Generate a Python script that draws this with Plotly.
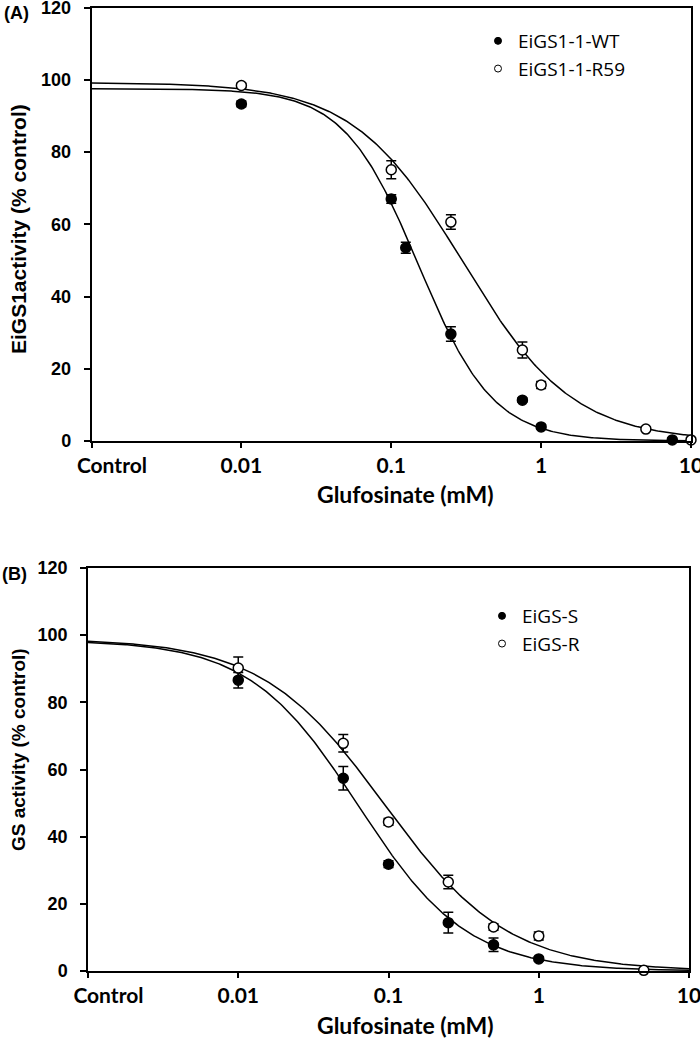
import numpy as np
import plotly.graph_objects as go

# ---------------- Data ----------------
# Panel A
conc_a_wt = [0.01, 0.1, 0.125, 0.25, 0.75, 1, 7.5]
act_a_wt = [93.3, 67.0, 53.5, 29.6, 11.3, 3.9, 0.3]
err_a_wt = [0.8, 1.2, 1.5, 2.0, 0.6, 0.5, 0.3]

conc_a_r59 = [0.01, 0.1, 0.25, 0.75, 1, 5, 10]
act_a_r59 = [98.4, 75.1, 60.6, 25.2, 15.5, 3.3, 0.3]
err_a_r59 = [0.6, 2.5, 2.0, 2.2, 1.0, 0.5, 0.3]

# Panel B
conc_b_s = [0.01, 0.05, 0.1, 0.25, 0.5, 1]
act_b_s = [86.6, 57.4, 31.8, 14.4, 7.8, 3.6]
err_b_s = [2.3, 3.5, 1.0, 3.1, 2.0, 0.6]

conc_b_r = [0.01, 0.05, 0.1, 0.25, 0.5, 1, 5]
act_b_r = [90.2, 67.8, 44.4, 26.5, 13.1, 10.4, 0.2]
err_b_r = [3.3, 2.6, 1.0, 2.0, 1.0, 1.2, 0.3]

# Fitted log-logistic curves: (top, IC50, Hill slope)
fit_a_wt = (97.5, 0.152, 1.745)
fit_a_r59 = (99.2, 0.30, 1.185)
fit_b_s = (98.5, 0.063, 1.2)
fit_b_r = (99.0, 0.0944, 1.06)

tick_vals = [0.001, 0.01, 0.1, 1, 10]
tick_text = ["\u00a0" * 8 + "Control", "0.01", "0.1", "1", "10"]
y_ticks = [0, 20, 40, 60, 80, 100, 120]

W, H = 700, 1038


def curve(params):
    top, ic50, hill = params
    xs = np.logspace(-3, 1, 400)
    return xs, top / (1 + (xs / ic50) ** hill)


fig = go.Figure()

marker_filled = dict(symbol="circle", size=10, color="black", line=dict(color="black", width=1.5))
marker_open = dict(symbol="circle", size=10, color="white", line=dict(color="black", width=1.5))
err_style = dict(type="data", color="black", thickness=1.5, width=5)


def add_panel(xa, ya, fits, series, legend):
    for p in fits:
        xs, ys = curve(p)
        fig.add_trace(go.Scatter(x=xs, y=ys, mode="lines", line=dict(color="black", width=1.5),
                                 showlegend=False, hoverinfo="skip", xaxis=xa, yaxis=ya))
    for name, cx, cy, ce, mk in series:
        fig.add_trace(go.Scatter(x=cx, y=cy, mode="markers", marker=mk,
                                 error_y=dict(array=ce, **err_style), cliponaxis=False,
                                 showlegend=False, xaxis=xa, yaxis=ya))
    for name, cx, cy, ce, mk in series:
        lm = dict(mk)
        lm["size"] = 7
        lm["line"] = dict(color="black", width=1)
        fig.add_trace(go.Scatter(x=[None], y=[None], mode="markers", marker=lm, name=name,
                                 showlegend=True, legend=legend, xaxis=xa, yaxis=ya))


add_panel("x", "y", [fit_a_wt, fit_a_r59],
          [("EiGS1-1-WT", conc_a_wt, act_a_wt, err_a_wt, marker_filled),
           ("EiGS1-1-R59", conc_a_r59, act_a_r59, err_a_r59, marker_open)], "legend")
add_panel("x2", "y2", [fit_b_s, fit_b_r],
          [("EiGS-S", conc_b_s, act_b_s, err_b_s, marker_filled),
           ("EiGS-R", conc_b_r, act_b_r, err_b_r, marker_open)], "legend2")

xfont = dict(family="Lato, 'Open Sans', sans-serif", size=21, color="black", weight="bold")
yfont = dict(family="'Liberation Sans', Arial, sans-serif", size=18, color="black", weight="bold")

xcommon = dict(type="log", range=[-3, 1], tickvals=tick_vals, ticktext=tick_text, ticks="outside",
               ticklen=5, tickwidth=1.5, tickcolor="black", showline=True, linecolor="black",
               linewidth=1.5, mirror=True, showgrid=False, zeroline=False, tickfont=xfont,
               automargin=False, ticklabeloverflow="allow")
ycommon = dict(range=[0, 120], tickvals=y_ticks, ticks="outside", ticklen=6, tickwidth=1.5,
               tickcolor="black", showline=True, linecolor="black", linewidth=1.5, mirror=True,
               showgrid=False, zeroline=False, tickfont=yfont, automargin=False,
               ticklabeloverflow="allow", ticklabelstandoff=9)

legfont = dict(family="'Open Sans', sans-serif", size=19, color="black")

fig.update_layout(
    width=W, height=H, margin=dict(l=0, r=0, t=0, b=0, autoexpand=False),
    paper_bgcolor="white", plot_bgcolor="white", showlegend=True,
    xaxis=dict(domain=[91.5 / W, 691 / W], anchor="y", **xcommon),
    yaxis=dict(domain=[1 - 441 / H, 1 - 7.5 / H], anchor="x", **ycommon),
    xaxis2=dict(domain=[88 / W, 689 / W], anchor="y2", **xcommon),
    yaxis2=dict(domain=[1 - 971 / H, 1 - 568 / H], anchor="x2", **ycommon),
    legend=dict(x=478 / W, y=1 - 22 / H, xanchor="left", yanchor="top", bgcolor="rgba(0,0,0,0)",
                font=legfont, tracegroupgap=0),
    legend2=dict(x=482 / W, y=1 - 597 / H, xanchor="left", yanchor="top", bgcolor="rgba(0,0,0,0)",
                 font=legfont, tracegroupgap=0),
)

ann_font_t = dict(family="Lato, 'Open Sans', sans-serif", size=23, color="black", weight="bold")
ann_font_ya = dict(family="'Liberation Sans', Arial, sans-serif", size=21, color="black", weight="bold")
ann_font_yb = dict(family="'Liberation Sans', Arial, sans-serif", size=19, color="black", weight="bold")

annotations = [
    dict(text="(A)", x=2 / W, y=1 - 13 / H, xanchor="left", yanchor="middle", font=yfont),
    dict(text="(B)", x=0 / W, y=1 - 574 / H, xanchor="left", yanchor="middle", font=yfont),
    dict(text="Glufosinate (mM)", x=405 / W, y=1 - 494 / H, xanchor="center", yanchor="middle", font=ann_font_t),
    dict(text="Glufosinate (mM)", x=405 / W, y=1 - 1025 / H, xanchor="center", yanchor="middle", font=ann_font_t),
    dict(text="EiGS1activity (% control)", x=18 / W, y=1 - 229 / H, xanchor="center", yanchor="middle",
         textangle=-90, font=ann_font_ya),
    dict(text="GS activity (% control)", x=18 / W, y=1 - 750 / H, xanchor="center", yanchor="middle",
         textangle=-90, font=ann_font_yb),
]
for a in annotations:
    fig.add_annotation(xref="paper", yref="paper", showarrow=False, **a)

fig.write_html("out.html", config={"displayModeBar": False},
               post_script="document.body.style.margin='0';")
